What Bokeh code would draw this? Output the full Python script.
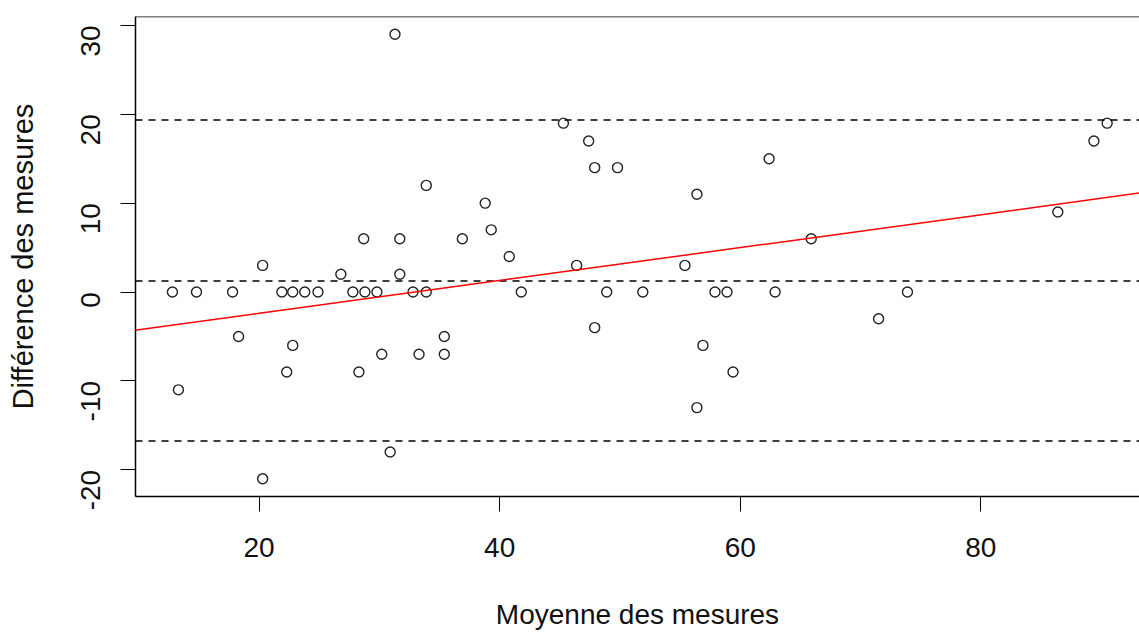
import math
from bokeh.plotting import figure
from bokeh.models import Span, Range1d, FixedTicker, Slope, PrintfTickFormatter
from bokeh.embed import file_html
from bokeh.resources import INLINE

# Bland-Altman data
moyenne = [12.8, 13.3, 14.8, 17.8, 18.3, 20.3, 20.3, 21.9, 22.3, 22.8, 22.8, 23.8,
           24.9, 26.8, 27.8, 28.3, 28.7, 28.8, 29.8, 30.2, 30.9, 31.3, 31.7, 31.7,
           32.8, 33.3, 33.9, 33.9, 35.4, 35.4, 36.9, 38.8, 39.3, 40.8, 41.8, 45.3,
           46.4, 47.4, 47.9, 47.9, 48.9, 49.8, 51.9, 55.4, 56.4, 56.4, 56.9, 57.9,
           58.9, 59.4, 62.4, 62.9, 65.9, 71.5, 73.9, 86.4, 89.4, 90.5]
difference = [0, -11, 0, 0, -5, 3, -21, 0, -9, 0, -6, 0,
              0, 2, 0, -9, 6, 0, 0, -7, -18, 29, 6, 2,
              0, -7, 12, 0, -5, -7, 6, 10, 7, 4, 0, 19,
              3, 17, 14, -4, 0, 14, 0, 3, 11, -13, -6, 0,
              0, -9, 15, 0, 6, -3, 0, 9, 17, 19]

mean_diff = 1.24
upper_loa = 19.35
lower_loa = -16.76
reg_intercept = -6.1
reg_slope = 0.185

x_ticks = [20, 40, 60, 80]
y_ticks = [-20, -10, 0, 10, 20, 30]

FONT = "Liberation Sans"

p = figure(width=1139, height=635, output_backend="svg", toolbar_location=None,
           x_range=Range1d(9.73, 93.19), y_range=Range1d(-23.0, 31.0),
           min_border_left=135, min_border_right=0, min_border_top=16,
           min_border_bottom=139, background_fill_color="white",
           border_fill_color="white")
p.outline_line_color = None
p.xgrid.visible = False
p.ygrid.visible = False

for ax in (p.xaxis[0], p.yaxis[0]):
    ax.axis_line_color = "black"
    ax.axis_line_width = 1.5
    ax.major_tick_line_color = "black"
    ax.major_tick_line_width = 1
    ax.major_tick_out = 15
    ax.major_tick_in = 0
    ax.minor_tick_out = 0
    ax.minor_tick_in = 0
    ax.major_label_text_font = FONT
    ax.major_label_text_font_size = "28px"
    ax.major_label_text_color = "#111111"
    ax.axis_label_text_font = FONT
    ax.axis_label_text_font_style = "normal"
    ax.axis_label_text_color = "#111111"
    ax.formatter = PrintfTickFormatter(format="%d")

p.xaxis.ticker = FixedTicker(ticks=x_ticks)
p.yaxis.ticker = FixedTicker(ticks=y_ticks)
p.xaxis.axis_label = "Moyenne des mesures"
p.yaxis.axis_label = "Différence des mesures"
p.xaxis.axis_label_text_font_size = "28px"
p.yaxis.axis_label_text_font_size = "29px"
p.yaxis.major_label_orientation = math.pi / 2
p.xaxis.major_label_standoff = 26
p.yaxis.major_label_standoff = 30
p.xaxis.axis_label_standoff = 39
p.yaxis.axis_label_standoff = 30

# top border of the box
p.add_layout(Span(location=31.0, dimension="width", line_color="black", line_width=1.5))

for loc in (upper_loa, mean_diff, lower_loa):
    p.add_layout(Span(location=loc, dimension="width", line_color="black",
                      line_width=1.5, line_dash="7 6"))

p.add_layout(Slope(gradient=reg_slope, y_intercept=reg_intercept,
                   line_color="red", line_width=1.5))

p.scatter(moyenne, difference, marker="circle", size=10, fill_color=None,
          line_color="#222222", line_width=1.4)

open("out.html", "w").write(file_html(p, INLINE))
